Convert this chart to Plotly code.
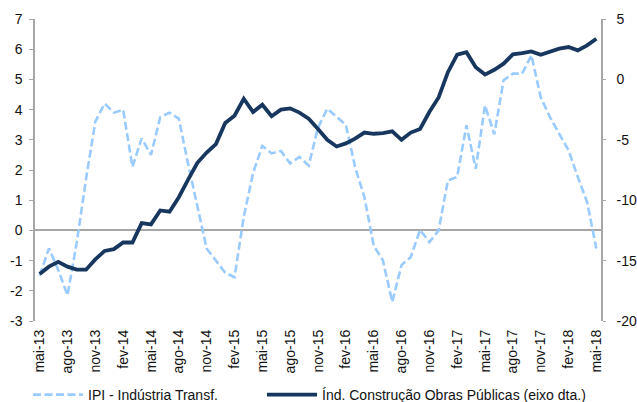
import plotly.graph_objects as go

months_pt = ["jan", "fev", "mar", "abr", "mai", "jun", "jul", "ago", "set", "out", "nov", "dez"]
categories = []
for k in range(61):
    m = (4 + k) % 12
    y = 13 + (4 + k) // 12
    categories.append(f"{months_pt[m]}-{y}")

tick_labels = categories[::3]

left_ticks = [-3, -2, -1, 0, 1, 2, 3, 4, 5, 6, 7]
right_ticks = [-20, -15, -10, -5, 0, 5]

ipi = [-1.5, -0.6, -1.3, -2.15, -0.4, 1.7, 3.6, 4.2, 3.9, 4.0,
       2.1, 3.05, 2.5, 3.75, 3.9, 3.7, 2.2, 0.8, -0.6, -1.0,
       -1.4, -1.55, 0.45, 1.9, 2.8, 2.55, 2.63, 2.22, 2.43, 2.15,
       3.4, 4.03, 3.77, 3.5, 2.1, 1.1, -0.5, -1.0, -2.37, -1.15,
       -0.88, 0.02, -0.39, 0.0, 1.66, 1.77, 3.48, 2.04, 4.14, 3.18,
       4.97, 5.19, 5.19, 5.8, 4.41, 3.75, 3.2, 2.65, 1.77, 0.94, -0.6]

construcao = [-16.1, -15.5, -15.1, -15.5, -15.75, -15.75, -14.9, -14.2, -14.05, -13.5,
              -13.5, -11.9, -12.0, -10.85, -10.95, -9.75, -8.3, -6.9, -6.05, -5.35,
              -3.6, -3.0, -1.6, -2.7, -2.1, -3.05, -2.5, -2.4, -2.75, -3.25,
              -4.1, -5.0, -5.55, -5.3, -4.9, -4.4, -4.5, -4.45, -4.3, -5.0,
              -4.4, -4.1, -2.7, -1.5, 0.6, 2.05, 2.25, 1.0, 0.4, 0.8,
              1.3, 2.07, 2.18, 2.32, 2.04, 2.27, 2.54, 2.68, 2.4, 2.82, 3.37]

axis_color = "#a6a6a6"
font_family = "Liberation Sans, Arial, sans-serif"

fig = go.Figure()
fig.add_trace(go.Scatter(
    x=categories, y=ipi, mode="lines", name="IPI - Indústria Transf.",
    line=dict(color="#99cbff", width=2.6, dash="8px,3.5px"), yaxis="y",
    legend="legend"))
fig.add_trace(go.Scatter(
    x=categories, y=construcao, mode="lines",
    name="Índ. Construção Obras Públicas (eixo dta.)",
    line=dict(color="#17375e", width=3.8), yaxis="y2", legend="legend2"))

legend_common = dict(orientation="h", xanchor="left", xref="container",
                     yref="container", y=1 - 395 / 402, yanchor="middle",
                     font=dict(size=14), itemwidth=50, bgcolor="rgba(0,0,0,0)")

fig.update_layout(
    width=637, height=402, autosize=False,
    margin=dict(l=35, r=36, t=19, b=81),
    paper_bgcolor="white", plot_bgcolor="white",
    font=dict(family=font_family, size=14, color="#111111"),
    showlegend=True,
    legend=dict(x=28 / 637, **legend_common),
    legend2=dict(x=262 / 637, **legend_common),
    xaxis=dict(type="category", categoryorder="array", categoryarray=categories,
               range=[-0.5, 60.5], tickmode="array", tickvals=tick_labels,
               ticktext=tick_labels, tickangle=-90, showline=False, ticks="",
               showgrid=False, zeroline=False, tickfont=dict(size=14),
               automargin=False, ticklabelstandoff=5),
    yaxis=dict(range=[-3, 7], tickmode="array", tickvals=left_ticks,
               ticktext=[str(v) for v in left_ticks], showline=True, linecolor=axis_color,
               linewidth=1.5, ticks="outside", ticklen=4, tickcolor=axis_color,
               showgrid=False, zeroline=True, zerolinecolor=axis_color,
               zerolinewidth=2, tickfont=dict(size=14), automargin=False,
               ticklabelstandoff=4),
    yaxis2=dict(range=[-20, 5], tickmode="array", tickvals=right_ticks,
                ticktext=[str(v) for v in right_ticks], overlaying="y", side="right",
                showline=True, linecolor=axis_color, linewidth=1.5, ticks="outside",
                ticklen=3, tickcolor=axis_color, showgrid=False, zeroline=False,
                tickfont=dict(size=14), automargin=False, ticklabelstandoff=8),
)

fig.write_html(
    "out.html",
    config={"responsive": False, "displayModeBar": False},
    post_script="document.body.style.margin='0';document.body.style.padding='0';"
                "document.documentElement.style.overflow='hidden';",
)
